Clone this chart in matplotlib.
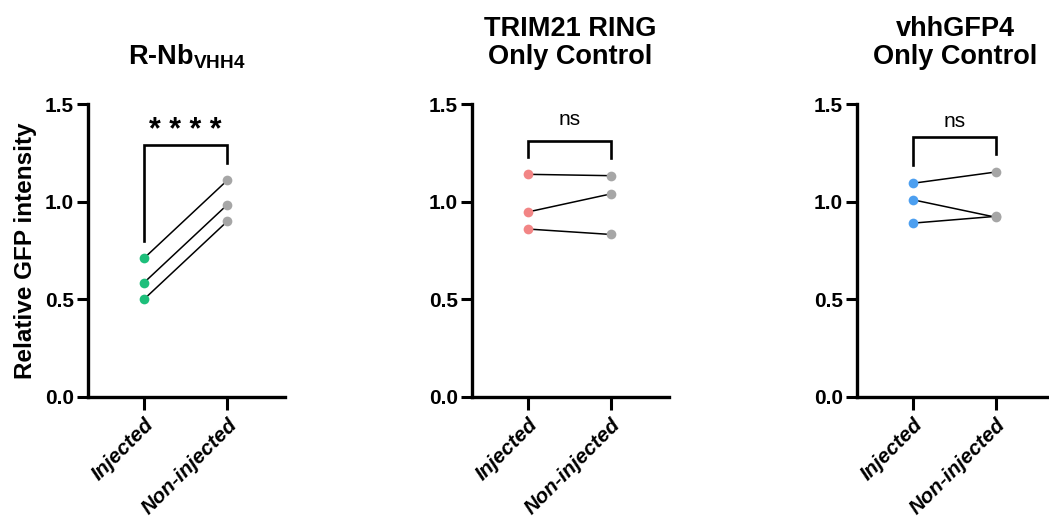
import matplotlib
matplotlib.use("Agg")
import matplotlib.pyplot as plt

plt.rcParams['font.family'] = ['Liberation Sans', 'DejaVu Sans']
plt.rcParams['mathtext.fontset'] = 'custom'
plt.rcParams['mathtext.rm'] = 'Liberation Sans'
plt.rcParams['mathtext.bf'] = 'Liberation Sans:bold'

groups = ["Injected", "Non-injected"]
titles = [r"R-Nb$_{\mathbf{VHH4}}$", "TRIM21 RING\nOnly Control", "vhhGFP4\nOnly Control"]
injected = [[0.71, 0.585, 0.50], [1.14, 0.947, 0.86], [1.094, 1.01, 0.89]]
non_injected = [[1.11, 0.985, 0.90], [1.133, 1.04, 0.832], [1.152, 0.92, 0.925]]
signif = ["* * * *", "ns", "ns"]
yticks = [0.0, 0.5, 1.0, 1.5]
ytick_labels = ["0.0", "0.5", "1.0", "1.5"]

colors = ["#1dbf7b", "#f28585", "#4c9ff0"]
grey = "#a6a6a6"
# bracket: (top, left leg end, right leg end, text y)
brackets = [(1.29, 0.80, 1.20, 1.36), (1.31, 1.23, 1.225, 1.42), (1.33, 1.186, 1.244, 1.41)]
lefts = [88, 471.7, 856.7]

W, H = 1049, 525
fig = plt.figure(figsize=(W / 100, H / 100), dpi=100)

for i in range(3):
    ax = fig.add_axes([lefts[i] / W, 1 - 397 / H, 197 / W, 293 / H])
    for a, b in zip(injected[i], non_injected[i]):
        ax.plot([0, 1], [a, b], color="black", lw=1.1, zorder=2)
    ax.plot([0] * len(injected[i]), injected[i], "o", color=colors[i], ms=7, mew=0, zorder=3)
    ax.plot([1] * len(non_injected[i]), non_injected[i], "o", color=grey, ms=7, mew=0, zorder=3)

    top, l_end, r_end, ty = brackets[i]
    ax.plot([0, 0, 1, 1], [l_end, top, top, r_end], color="black", lw=1.9,
            clip_on=False, solid_joinstyle="miter")
    if i == 0:
        ax.text(0.5, ty, signif[i], ha="center", va="center", fontsize=22, fontweight="bold")
    else:
        ax.text(0.5, ty, signif[i], ha="center", va="center", fontsize=15)

    ax.set_xlim(-0.67, 1.69)
    ax.set_ylim(0, 1.5)
    ax.set_yticks(yticks)
    ax.set_yticklabels(ytick_labels, fontsize=15, fontweight="bold")
    ax.set_xticks([0, 1])
    ax.set_xticklabels(groups, fontsize=15, fontweight="bold", fontstyle="italic",
                       rotation=45, ha="right", va="top", rotation_mode="anchor")
    ax.tick_params(axis="y", length=8, width=2.2, pad=2)
    ax.tick_params(axis="x", length=9, width=2.2, pad=4)
    for s in ["top", "right"]:
        ax.spines[s].set_visible(False)
    for s in ["left", "bottom"]:
        ax.spines[s].set_linewidth(2.4)
    ax.set_title(titles[i], fontsize=19.5, fontweight="bold", pad=28.5, linespacing=1.1)
    if i == 0:
        ax.set_ylabel("Relative GFP intensity", fontsize=17.5, fontweight="bold", labelpad=6)

fig.savefig("out.png", dpi=100)
